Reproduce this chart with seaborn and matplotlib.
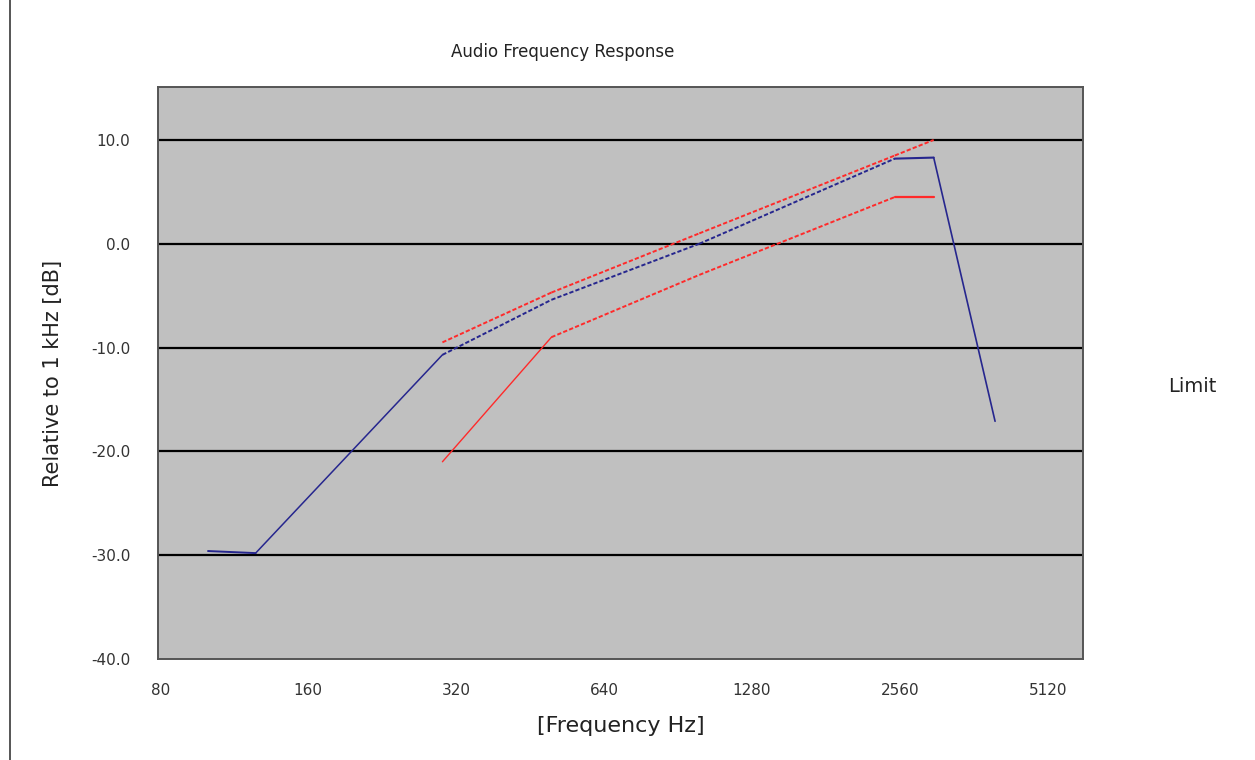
import matplotlib
matplotlib.use("Agg")
import matplotlib.pyplot as plt
from matplotlib.lines import Line2D
import seaborn as sns
import pandas as pd

# Measured audio response (relative to 1 kHz)
resp_freq = [100, 125, 300, 500, 1000, 2500, 3000, 4000]
resp_db = [-29.6, -29.8, -10.7, -5.4, 0.0, 8.2, 8.3, -17.1]

# Upper limit mask
upper_freq = [300, 500, 1000, 2500, 3000]
upper_db = [-9.5, -4.7, 1.0, 8.5, 10.0]

# Lower limit mask
lower_freq = [300, 500, 1000, 2500, 3000]
lower_db = [-21.0, -9.0, -3.0, 4.5, 4.5]

x_ticks = [80, 160, 320, 640, 1280, 2560, 5120]
y_ticks = [10, 0, -10, -20, -30, -40]

SOLID = "-"
DASH = (0, (2.2, 1.1))
resp_segments = [SOLID, SOLID, DASH, DASH, DASH, SOLID, SOLID]
upper_segments = [DASH, DASH, DASH, DASH]
lower_segments = [SOLID, DASH, DASH, SOLID]
resp_widths = [1.4, 1.1, 1.4, 1.4, 1.4, 1.5, 1.2]
upper_widths = [1.4, 1.4, 1.4, 1.4]
lower_widths = [1.0, 1.4, 1.4, 1.6]

sns.set_style("white")
plt.rcParams["font.family"] = ["DejaVu Sans"]

fig = plt.figure(figsize=(12.55, 7.6), dpi=100)
ax = fig.add_axes([158 / 1255, 1 - 659 / 760, (1083 - 158) / 1255, (659 - 87) / 760])
ax.set_facecolor("#c0c0c0")

ax.set_xscale("log", base=2)
ax.set_xlim(79.1, 6040)
ax.set_ylim(-40, 15.1)

# horizontal grid lines
for v in y_ticks[:-1]:
    ax.axhline(v, color="black", lw=1.6, zorder=1)


def draw_series(freq, db, segs, widths, color):
    df = pd.DataFrame({"f": freq, "db": db})
    for i, (ls, w) in enumerate(zip(segs, widths)):
        part = df.iloc[i:i + 2]
        sns.lineplot(data=part, x="f", y="db", ax=ax, color=color, lw=w,
                     linestyle=ls, sort=False, estimator=None, zorder=3)


draw_series(upper_freq, upper_db, upper_segments, upper_widths, "#ff2a2a")
draw_series(lower_freq, lower_db, lower_segments, lower_widths, "#ff2a2a")
draw_series(resp_freq, resp_db, resp_segments, resp_widths, "#26268e")

ax.set_xticks(x_ticks)
ax.set_xticklabels([str(t) for t in x_ticks])
ax.set_yticks(y_ticks)
ax.set_yticklabels([f"{t:.1f}" for t in y_ticks])
ax.minorticks_off()
ax.tick_params(axis="both", length=0, labelsize=11, colors="#333333")
ax.tick_params(axis="x", pad=17)
ax.tick_params(axis="y", pad=20)

for s in ax.spines.values():
    s.set_color("#555555")
    s.set_linewidth(1.4)

ax.set_xlabel("[Frequency Hz]", fontsize=16, color="#222222", labelpad=13)
ax.set_ylabel("Relative to 1 kHz [dB]", fontsize=15, color="#222222", labelpad=20)

fig.text(563 / 1255, 1 - 52 / 760, "Audio Frequency Response", ha="center",
         va="center", fontsize=12, color="#222222")
fig.text(1168 / 1255, 1 - 386 / 760, "Limit", ha="left", va="center",
         fontsize=14, color="#222222")

# left frame line of the sheet
fig.add_artist(Line2D([10 / 1255, 10 / 1255], [0, 1], color="#555555", lw=1.4))

fig.savefig("out.png", dpi=100, facecolor="white")
